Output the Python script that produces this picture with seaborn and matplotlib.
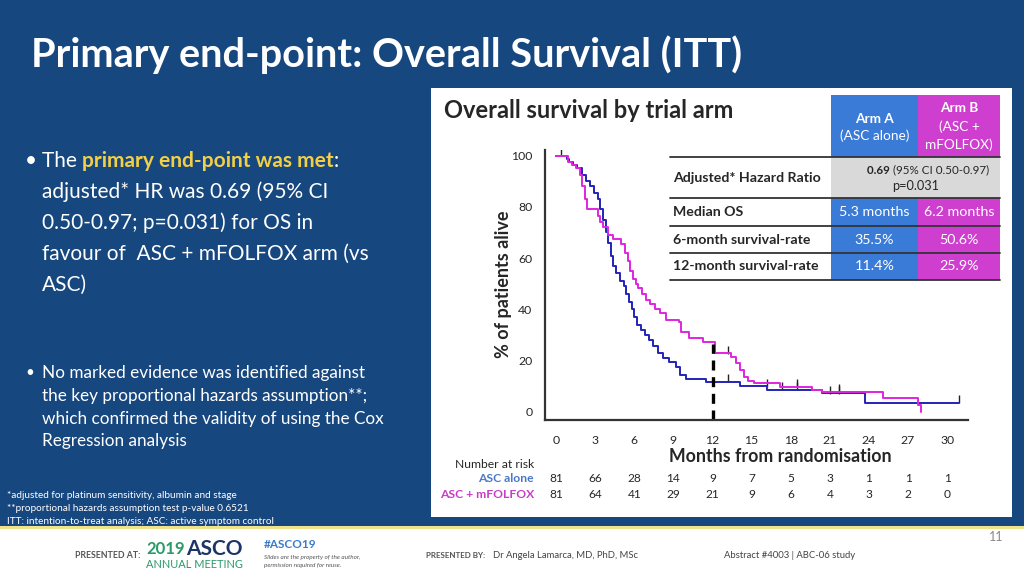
import numpy as np
import pandas as pd
import matplotlib
matplotlib.use("Agg")
import matplotlib.pyplot as plt
import seaborn as sns
from matplotlib.patches import Rectangle

# ---- data ----
arm_names = ["ASC alone", "ASC + mFOLFOX"]

asc_months = [0, 0.8, 1.0, 1.3, 1.6, 2.0, 2.3, 2.6, 2.9, 3.2, 3.4, 3.6, 3.8, 4.0, 4.2, 4.4,
              4.6, 4.9, 5.2, 5.4, 5.6, 5.8, 6.0, 6.2, 6.5, 6.8, 7.1, 7.4, 7.8, 8.2, 8.7, 9.2,
              9.5, 10.0, 11.5, 14.1, 16.2, 20.4, 23.7, 30.9]
asc_surv = [100, 98.8, 97.5, 96.3, 95.0, 92.5, 90.0, 88.0, 85.5, 83.0, 79.0, 75.0, 70.0, 66.0,
            61.0, 57.0, 54.0, 51.0, 49.0, 46.0, 43.0, 40.0, 37.0, 34.0, 32.0, 30.0, 28.0, 25.5,
            23.0, 21.0, 19.5, 17.5, 14.5, 13.0, 11.7, 10.1, 8.7, 7.2, 3.6, 3.6]

fol_months = [0, 0.9, 1.2, 1.5, 1.8, 2.0, 2.2, 2.4, 3.2, 3.4, 3.6, 4.0, 4.4, 5.0, 5.3, 5.5,
              5.7, 5.9, 6.1, 6.3, 6.6, 6.9, 7.2, 7.6, 8.0, 8.4, 9.4, 9.6, 10.2, 11.3, 12.2,
              13.4, 13.8, 14.1, 14.4, 14.7, 15.2, 17.2, 19.6, 20.4, 25.1, 27.8, 28.0]
fol_surv = [100, 97.5, 96.3, 95.0, 92.5, 88.0, 83.0, 79.0, 76.5, 74.0, 72.0, 69.0, 67.5, 65.5,
            62.0, 59.0, 55.0, 52.0, 50.0, 48.5, 46.0, 43.5, 42.0, 40.0, 38.5, 36.0, 35.2, 31.0,
            29.0, 27.3, 22.8, 21.5, 18.9, 16.3, 13.7, 12.0, 11.3, 9.8, 8.5, 7.8, 5.2, 2.6, 0.0]

asc_cens_m = [0.35, 13.2, 17.3, 18.5, 21.0, 21.7, 30.9]
asc_cens_s = [100, 11.7, 8.7, 8.7, 7.2, 7.2, 3.6]
fol_cens_m = [13.2, 16.2, 18.5, 21.7]
fol_cens_s = [22.8, 9.8, 9.8, 7.8]

risk_months = [0, 3, 6, 9, 12, 15, 18, 21, 24, 27, 30]
risk_asc = [81, 66, 28, 14, 9, 7, 5, 3, 1, 1, 1]
risk_fol = [81, 64, 41, 29, 21, 9, 6, 4, 3, 2, 0]

table_rows = ["Adjusted* Hazard Ratio", "Median OS", "6-month survival-rate", "12-month survival-rate"]
arm_a_vals = ["5.3 months", "35.5%", "11.4%"]
arm_b_vals = ["6.2 months", "50.6%", "25.9%"]

# ---- colours ----
BG = "#17477f"
BLUE_LINE = "#2323b8"
MAG_LINE = "#e025e0"
CELL_BLUE = "#3b7bd8"
CELL_MAG = "#cf3fcf"
CELL_GREY = "#d9d9d9"

sns.set_style("white")
plt.rcParams["font.family"] = ["Lato", "DejaVu Sans"]

W, H = 1024, 576
fig = plt.figure(figsize=(10.24, 5.76), dpi=100)
fig.patch.set_facecolor(BG)
renderer = fig.canvas.get_renderer()


def fx(x):
    return x / W


def fy(y):
    return 1 - y / H


def txt(x, y, s, **kw):
    kw.setdefault("va", "center")
    return fig.text(fx(x), fy(y), s, **kw)


def run(x, y, pieces, **common):
    # draw text pieces one after another on the same line
    for s, kw in pieces:
        t = txt(x, y, s, **{**common, **kw})
        x += t.get_window_extent(renderer).width
    return x


def rect(x0, y0, x1, y1, color, z=-1):
    fig.patches.append(Rectangle((fx(x0), fy(y1)), fx(x1) - fx(x0), fy(y0) - fy(y1),
                                 transform=fig.transFigure, facecolor=color,
                                 edgecolor="none", zorder=z))


def hline(x0, x1, y, color="#333333", lw=1.3):
    fig.add_artist(plt.Line2D([fx(x0), fx(x1)], [fy(y), fy(y)], transform=fig.transFigure,
                              color=color, lw=lw, zorder=3))


# white chart panel and footer
rect(431, 88, 1012, 517, "white")
rect(0, 528, W, H, "white")
rect(0, 526, W, 529, "#f0e28a")

# title
txt(31, 55, "Primary end-point: Overall Survival (ITT)", color="white", fontsize=28.5,
    fontweight="bold")

# left bullets
txt(25, 161, "•", color="white", fontsize=15)
run(42, 161, [("The ", {}),
              ("primary end-point was met", {"color": "#f2cf45", "fontweight": "bold"}),
              (":", {})], color="white", fontsize=15)
big_lines = ["adjusted* HR was 0.69 (95% CI", "0.50-0.97; p=0.031) for OS in",
             "favour of  ASC + mFOLFOX arm (vs", "ASC)"]
for i, line in enumerate(big_lines):
    txt(42, 192 + i * 30.8, line, color="white", fontsize=15)

txt(25, 373, "•", color="white", fontsize=11)
small_lines = ["No marked evidence was identified against",
               "the key proportional hazards assumption**;",
               "which confirmed the validity of using the Cox",
               "Regression analysis"]
for i, line in enumerate(small_lines):
    txt(42, 373 + i * 22.8, line, color="white", fontsize=12.3)

foot = ["*adjusted for platinum sensitivity, albumin and stage",
        "**proportional hazards assumption test p-value 0.6521",
        "ITT: intention-to-treat analysis; ASC: active symptom control"]
for i, line in enumerate(foot):
    txt(7, 496 + i * 12.5, line, color="white", fontsize=7.2)

# footer
txt(75, 555, "PRESENTED AT:", color="#555555", fontsize=6.3, fontweight="bold")
run(146, 549, [("2019", {"color": "#2a9a6a", "fontsize": 12}),
               (" ", {"fontsize": 4}),
               ("ASCO", {"color": "#1c3468", "fontsize": 15})], fontweight="bold")
txt(146, 564, "ANNUAL MEETING", color="#2a9a6a", fontsize=7.9)
txt(264, 545, "#ASCO19", color="#3a7bc8", fontsize=8.5, fontweight="bold")
txt(264, 557, "Slides are the property of the author,", color="#555555", fontsize=4.6,
    style="italic")
txt(264, 565, "permission required for reuse.", color="#555555", fontsize=4.6, style="italic")
txt(426, 556, "PRESENTED BY:", color="#555555", fontsize=5.8, fontweight="bold")
txt(493, 556, "Dr Angela Lamarca, MD, PhD, MSc", color="#444444", fontsize=6.8)
txt(724, 556, "Abstract #4003 | ABC-06 study", color="#444444", fontsize=6.8)
txt(1003, 537, "11", color="#888888", fontsize=9, ha="right")

# ---- Kaplan-Meier axes ----
ax = fig.add_axes([fx(545), fy(420), fx(968) - fx(545), fy(150) - fy(420)])
ax.set_zorder(1)
ax.set_facecolor("white")

km = pd.concat([
    pd.DataFrame({"month": asc_months, "pct": asc_surv, "arm": arm_names[0]}),
    pd.DataFrame({"month": fol_months, "pct": fol_surv, "arm": arm_names[1]}),
])
pal = {arm_names[0]: BLUE_LINE, arm_names[1]: MAG_LINE}
sns.lineplot(data=km, x="month", y="pct", hue="arm", palette=pal, estimator=None,
             drawstyle="steps-post", lw=1.4, legend=False, ax=ax, sort=False)

cens = pd.concat([
    pd.DataFrame({"month": asc_cens_m, "pct": asc_cens_s, "arm": arm_names[0]}),
    pd.DataFrame({"month": fol_cens_m, "pct": fol_cens_s, "arm": arm_names[1]}),
])
cens["pct"] = cens["pct"] + 1.5
sns.scatterplot(data=cens, x="month", y="pct", color="#222222", marker="|", s=40,
                linewidth=1.0, legend=False, ax=ax)

ax.plot([12, 12], [-3.2, 26.5], color="black", lw=2.4, ls=(0, (3, 2)))

ax.set_xlim(-0.85, 31.6)
ax.set_ylim(-3.2, 102.2)
ax.set_xticks(risk_months)
ax.set_yticks([0, 20, 40, 60, 80, 100])
ax.tick_params(axis="both", direction="out", length=5, width=1.2, color="#333333",
               labelsize=8.8)
ax.tick_params(axis="y", pad=4)
ax.tick_params(axis="x", pad=6)
for s in ["top", "right"]:
    ax.spines[s].set_visible(False)
for s in ["left", "bottom"]:
    ax.spines[s].set_color("#333333")
    ax.spines[s].set_linewidth(1.6)
ax.set_xlabel("")
ax.set_ylabel("")

txt(780, 457, "Months from randomisation", fontsize=12.8, fontweight="bold", ha="center")
fig.text(fx(503), fy(284), "% of patients alive", fontsize=13, fontweight="bold",
         rotation=90, ha="center", va="center")
txt(444, 110, "Overall survival by trial arm", fontsize=17, fontweight="bold")

# number at risk
txt(534, 464, "Number at risk", fontsize=8.7, ha="right")
txt(534, 479, arm_names[0], fontsize=8.7, ha="right", color="#4a78c8", fontweight="bold")
txt(534, 494, arm_names[1], fontsize=8.7, ha="right", color="#c83cc8", fontweight="bold")
for m, a, b in zip(risk_months, risk_asc, risk_fol):
    xp = ax.transData.transform((m, 0))[0] / fig.dpi / fig.get_size_inches()[0]
    fig.text(xp, fy(479), str(a), fontsize=8.6, ha="center", va="center")
    fig.text(xp, fy(494), str(b), fontsize=8.6, ha="center", va="center")

# ---- summary table (drawn above the KM axes) ----
c0, c1, c2, c3 = 670, 831, 918, 1000
rect(c1, 95, c2, 157, CELL_BLUE, z=2)
rect(c2, 95, c3, 157, CELL_MAG, z=2)
row_y = [157, 198, 226, 253, 280]
rect(c0, 157, c3, 280, "white", z=2)
rect(c1, 157, c3, 198, CELL_GREY, z=2)
for i in range(1, 4):
    rect(c1, row_y[i], c2, row_y[i + 1], CELL_BLUE, z=2)
    rect(c2, row_y[i], c3, row_y[i + 1], CELL_MAG, z=2)
for yv in row_y:
    hline(c0, c3, yv)

tk = dict(zorder=4)
txt((c1 + c2) / 2, 119, "Arm A", color="white", fontsize=9.8, fontweight="bold", ha="center", **tk)
txt((c1 + c2) / 2, 136, "(ASC alone)", color="white", fontsize=9.8, ha="center", **tk)
txt((c2 + c3) / 2, 108, "Arm B", color="white", fontsize=9.8, fontweight="bold", ha="center", **tk)
txt((c2 + c3) / 2, 127, "(ASC +", color="white", fontsize=9.8, ha="center", **tk)
txt((c2 + c3) / 2, 145, "mFOLFOX)", color="white", fontsize=9.8, ha="center", **tk)

for i, lab in enumerate(table_rows):
    txt(673, (row_y[i] + row_y[i + 1]) / 2, lab, fontsize=10.2, fontweight="bold", **tk)
run(867, 170, [("0.69 ", {"fontweight": "bold"}), ("(95% CI 0.50-0.97)", {})],
    fontsize=8.4, zorder=4)
txt((c1 + c3) / 2, 186, "p=0.031", fontsize=9.2, ha="center", **tk)
for i in range(3):
    ym = (row_y[i + 1] + row_y[i + 2]) / 2
    txt((c1 + c2) / 2, ym, arm_a_vals[i], fontsize=10.3, color="white", ha="center", **tk)
    txt((c2 + c3) / 2, ym, arm_b_vals[i], fontsize=10.3, color="white", ha="center", **tk)

fig.savefig("out.png", dpi=100, facecolor=fig.get_facecolor())
